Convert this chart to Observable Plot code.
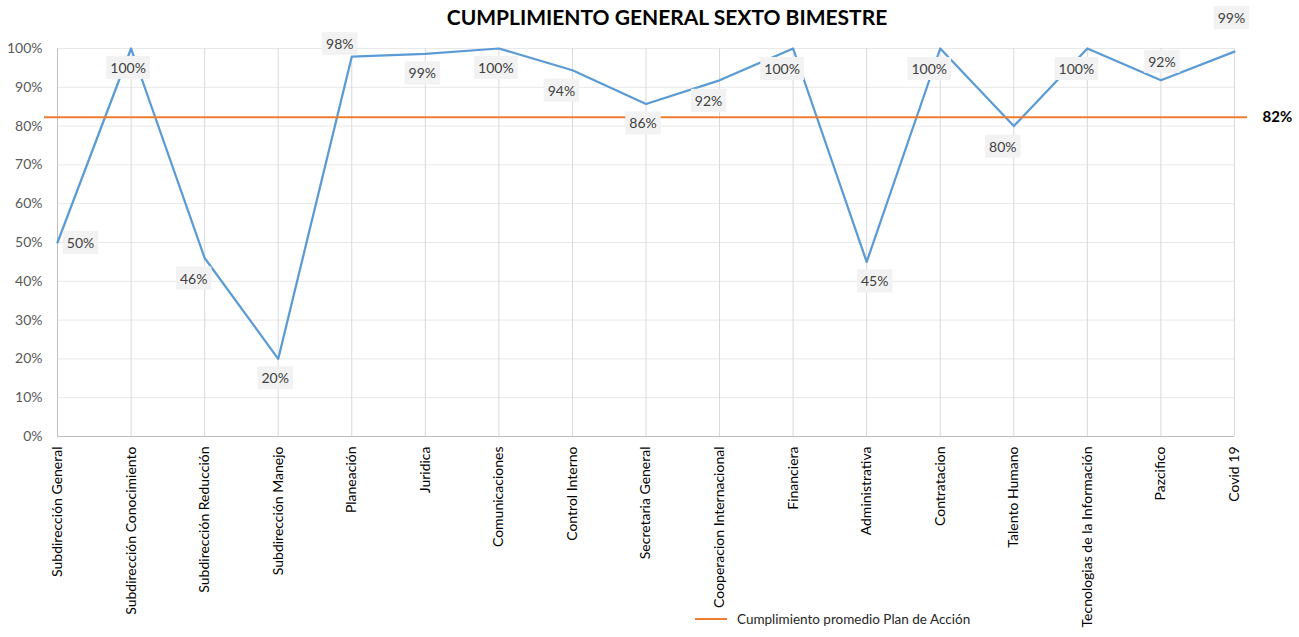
<!DOCTYPE html>
<html>
<head>
<meta charset="utf-8">
<script src="https://cdn.jsdelivr.net/npm/d3@7"></script>
<script src="https://cdn.jsdelivr.net/npm/@observablehq/plot@0.6"></script>
<style>
  html, body { margin: 0; padding: 0; background: #fff; }
  #wrap { position: relative; width: 1299px; height: 637px; font-family: Lato, "Open Sans", sans-serif; }
  #title { position: absolute; top: 4px; left: 0; width: 1334px; text-align: center; font-weight: 700; font-size: 21px; color: #000; }
  #legend { position: absolute; top: 611px; left: 695px; font-size: 13.5px; color: #262626; display: flex; align-items: center; }
  #legend .sw { display: inline-block; width: 32px; height: 2px; background: #ed7d31; margin-right: 10px; }
  svg { display: block; }
</style>
</head>
<body>
<div id="wrap">
  <div id="chart"></div>
  <div id="title">CUMPLIMIENTO GENERAL SEXTO BIMESTRE</div>
  <div id="legend"><span class="sw"></span><span>Cumplimiento promedio Plan de Acción</span></div>
</div>
<script>
const categories = [
  "Subdirección General", "Subdirección Conocimiento", "Subdirección Reducción", "Subdirección Manejo",
  "Planeación", "Juridica", "Comunicaciones", "Control Interno", "Secretaria General",
  "Cooperacion Internacional", "Financiera", "Administrativa", "Contratacion", "Talento Humano",
  "Tecnologias de la Información", "Pazcifico", "Covid 19"
];
const values = [0.50, 1.00, 0.46, 0.20, 0.979, 0.986, 1.00, 0.944, 0.857, 0.918, 1.00, 0.45, 1.00, 0.80, 1.00, 0.918, 0.992];
const average = 0.823;
const yTicks = [0, 0.1, 0.2, 0.3, 0.4, 0.5, 0.6, 0.7, 0.8, 0.9, 1.0];
// where each data label sits relative to its point
const labelPlacement = ["right", "below", "belowLeft", "below", "aboveLeft", "below", "below", "belowLeft", "below",
  "belowLeft", "belowLeft", "belowRight", "belowLeft", "belowLeft", "belowLeft", "above", "aboveFar"];

const idx = categories.map((_, i) => i);
const data = idx.map(i => ({i, v: values[i], p: labelPlacement[i]}));
const pct = d3.format(".0%");
const off = {
  right: [23, 1], below: [-3, 20], belowLeft: [-11, 21], belowRight: [8, 20],
  above: [1, -18], aboveLeft: [-12, -12], aboveFar: [-3, -33]
};
const first = idx[0], last = idx[idx.length - 1];

const plot = Plot.plot({
  width: 1299,
  height: 637,
  marginLeft: 44,
  marginRight: 52,
  marginTop: 48,
  marginBottom: 201,
  style: {fontFamily: "Lato, 'Open Sans', sans-serif", background: "#fff", overflow: "visible"},
  x: {domain: [first - 0.177, last + 0.177]},
  y: {domain: [0, 1]},
  marks: [
    Plot.ruleY(yTicks, {y: d => d, x1: first, x2: last, stroke: "#e8e8e8", strokeWidth: 1}),
    Plot.ruleX(idx, {x: d => d, y1: 0, y2: 1, stroke: "#d9d9d9", strokeWidth: 1}),
    Plot.ruleX([first], {x: d => d, y1: 0, y2: 1, stroke: "#bfbfbf", strokeWidth: 1}),
    Plot.ruleY([0], {y: d => d, x1: first, x2: last, stroke: "#bfbfbf", strokeWidth: 1}),
    Plot.axisY({ticks: yTicks, tickFormat: pct, tickSize: 0, tickPadding: 2, fontSize: 14, color: "#595959", label: null}),
    Plot.axisX({ticks: idx, tickFormat: i => categories[i], tickRotate: -90, tickSize: 0, tickPadding: 10, fontSize: 14, color: "#000", label: null}),
    Plot.line(data, {x: "i", y: "v", stroke: "#5b9bd5", strokeWidth: 2.25}),
    Plot.ruleY([average], {y: d => d, stroke: "#ed7d31", strokeWidth: 2}),
    Plot.text([average], {y: d => d, text: d => pct(d), frameAnchor: "right", textAnchor: "start", dx: 15, fontSize: 15, fontWeight: 700, fill: "#000"}),
    Plot.text(data, {x: "i", y: "v", text: d => pct(d.v), fontSize: 14, fill: "#404040",
      render: (index, scales, values, dims, ctx, next) => {
        const g = next(index, scales, values, dims, ctx);
        g.setAttribute("class", "dlabels");
        return g;
      }})
  ]
});
document.getElementById("chart").appendChild(plot);

// apply per-label offsets and draw label backgrounds
const labelG = plot.querySelector("g.dlabels");
if (labelG) {
  const texts = Array.from(labelG.querySelectorAll("text"));
  texts.forEach((t, k) => {
    const [dx, dy] = off[data[k].p];
    const tr = t.getAttribute("transform") || "";
    t.setAttribute("transform", (tr ? tr + " " : "") + `translate(${dx},${dy})`);
    const bb = t.getBBox();
    const r = document.createElementNS("http://www.w3.org/2000/svg", "rect");
    r.setAttribute("x", bb.x - 4);
    r.setAttribute("y", bb.y - 3);
    r.setAttribute("width", bb.width + 8);
    r.setAttribute("height", bb.height + 6);
    r.setAttribute("fill", "#f2f2f2");
    r.setAttribute("transform", t.getAttribute("transform"));
    t.parentNode.insertBefore(r, t);
  });
}
</script>
</body>
</html>
